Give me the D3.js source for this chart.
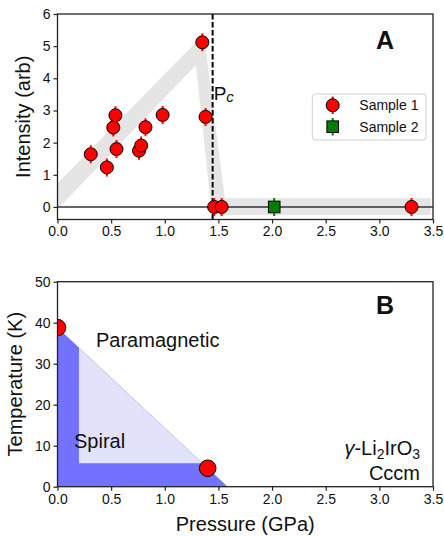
<!DOCTYPE html>
<html lang="en">
<head>
  <meta charset="UTF-8">
  <title>Pressure phase diagram</title>
  <script src="https://cdn.jsdelivr.net/npm/d3@7/dist/d3.min.js"></script>
  <style>
    body { margin: 0; background: #fff; }
    text { font-family: "Liberation Sans", Arial, sans-serif; fill: #111; }
  </style>
</head>
<body>
  <svg width="444" height="536"></svg>
  <script>
    // panel A: sample 1
    const p1 = [0.31, 0.46, 0.52, 0.54, 0.55, 0.76, 0.78, 0.82, 0.98, 1.35, 1.38, 1.46, 1.53, 3.30];
    const i1 = [1.64, 1.23, 2.47, 2.85, 1.80, 1.75, 1.91, 2.48, 2.86, 5.12, 2.80, 0, 0, 0];
    const e1 = [0.28, 0.28, 0.28, 0.28, 0.28, 0.28, 0.28, 0.28, 0.28, 0.28, 0.28, 0.28, 0.28, 0.28];
    // panel A: sample 2
    const p2 = [2.02];
    const i2 = [0];
    const e2 = [0.28];
    // grey guide band (pressure, intensity)
    const bandP = [0, 0, 1.33, 1.37, 1.56, 3.48, 3.48, 1.44, 1.29, 0.02];
    const bandI = [0, 0.74, 5.25, 5.2, 0.27, 0.27, -0.25, -0.25, 4.41, 0];
    const pc = 1.446;

    // panel B: phase diagram
    const outerP = [0, 1.586, 0];
    const outerT = [38.8, 0, 0];
    const innerP = [0.2, 0.2, 1.35];
    const innerT = [33.9, 5.7, 5.7];
    const ptP = [0, 1.4];
    const ptT = [38.8, 4.5];

    const xTicks = [0, 0.5, 1, 1.5, 2, 2.5, 3, 3.5];
    const yTicksA = [0, 1, 2, 3, 4, 5, 6];
    const yTicksB = [0, 10, 20, 30, 40, 50];

    const svg = d3.select('svg');
    const left = 57.5, right = 433;

    const x = d3.scaleLinear().domain([0, 3.5]).range([left, right]);
    const yA = d3.scaleLinear().domain([-0.39, 6]).range([219.5, 14]);
    const yB = d3.scaleLinear().domain([0, 50]).range([486.7, 281.7]);

    const fmt = d3.format('.1f');

    function frame(g, top, bottom) {
      g.append('rect')
        .attr('x', left).attr('y', top)
        .attr('width', right - left).attr('height', bottom - top)
        .attr('fill', 'none').attr('stroke', '#222').attr('stroke-width', 1.3);
    }

    function axes(g, y, yTicks, bottom) {
      const ax = g.append('g').attr('transform', `translate(0,${bottom})`)
        .call(d3.axisBottom(x).tickValues(xTicks).tickFormat(fmt).tickSize(4).tickPadding(3));
      const ay = g.append('g').attr('transform', `translate(${left},0)`)
        .call(d3.axisLeft(y).tickValues(yTicks).tickFormat(d3.format('d')).tickSize(4).tickPadding(3));
      [ax, ay].forEach(a => {
        a.select('.domain').remove();
        a.selectAll('line').attr('stroke', '#222').attr('stroke-width', 1.2);
        a.selectAll('text').style('font-size', '14px')
          .style('font-family', '"Liberation Sans", Arial, sans-serif').attr('fill', '#111');
      });
    }

    // ---------- panel A ----------
    const gA = svg.append('g');
    svg.append('clipPath').attr('id', 'clipA').append('rect')
      .attr('x', left).attr('y', 14).attr('width', right - left).attr('height', 219.5 - 14);
    const plotA = gA.append('g').attr('clip-path', 'url(#clipA)');

    plotA.append('path')
      .datum(d3.zip(bandP, bandI))
      .attr('d', d3.line().x(d => x(d[0])).y(d => yA(d[1])))
      .attr('fill', '#e5e5e5');

    plotA.append('line')
      .attr('x1', left).attr('x2', right).attr('y1', yA(0)).attr('y2', yA(0))
      .attr('stroke', '#333').attr('stroke-width', 1.5);

    plotA.append('line')
      .attr('x1', x(pc)).attr('x2', x(pc)).attr('y1', 14).attr('y2', 219.5)
      .attr('stroke', '#000').attr('stroke-width', 2).attr('stroke-dasharray', '5.5,2.5');

    const s1 = d3.zip(p1, i1, e1);
    plotA.selectAll('.err1').data(s1).enter().append('line')
      .attr('x1', d => x(d[0])).attr('x2', d => x(d[0]))
      .attr('y1', d => yA(d[1] - d[2])).attr('y2', d => yA(d[1] + d[2]))
      .attr('stroke', '#ff0000').attr('stroke-width', 2);
    plotA.selectAll('.dot1').data(s1).enter().append('circle')
      .attr('cx', d => x(d[0])).attr('cy', d => yA(d[1])).attr('r', 6.5)
      .attr('fill', '#ff0000').attr('stroke', '#000').attr('stroke-width', 1);

    const s2 = d3.zip(p2, i2, e2);
    plotA.selectAll('.err2').data(s2).enter().append('line')
      .attr('x1', d => x(d[0])).attr('x2', d => x(d[0]))
      .attr('y1', d => yA(d[1] - d[2])).attr('y2', d => yA(d[1] + d[2]))
      .attr('stroke', '#008000').attr('stroke-width', 2);
    plotA.selectAll('.sq2').data(s2).enter().append('rect')
      .attr('x', d => x(d[0]) - 5.8).attr('y', d => yA(d[1]) - 5.8)
      .attr('width', 11.6).attr('height', 11.6)
      .attr('fill', '#008000').attr('stroke', '#000').attr('stroke-width', 1);

    frame(gA, 14, 219.5);
    axes(gA, yA, yTicksA, 219.5);

    // P_c label
    const pcText = gA.append('text').attr('x', x(pc) + 1).attr('y', 100)
      .style('font-size', '19px');
    pcText.append('tspan').text('P');
    pcText.append('tspan').attr('dy', 1.5).style('font-style', 'italic').style('font-size', '15px').text('c');

    gA.append('text').attr('x', 385).attr('y', 48.5).attr('text-anchor', 'middle')
      .style('font-size', '25px').style('font-weight', 'bold').text('A');

    gA.append('text').attr('transform', `translate(29.5,${(14 + 219.5) / 2}) rotate(-90)`)
      .attr('text-anchor', 'middle').style('font-size', '20px').text('Intensity (arb)');

    // legend
    const leg = gA.append('g');
    leg.append('rect').attr('x', 312.3).attr('y', 94).attr('width', 113.7).attr('height', 46)
      .attr('rx', 3).attr('fill', '#fff').attr('fill-opacity', 0.8)
      .attr('stroke', '#d0d0d0').attr('stroke-width', 1);
    leg.append('line').attr('x1', 332.7).attr('x2', 332.7).attr('y1', 96.5).attr('y2', 114)
      .attr('stroke', '#ff0000').attr('stroke-width', 2);
    leg.append('circle').attr('cx', 332.7).attr('cy', 105.3).attr('r', 6.5)
      .attr('fill', '#ff0000').attr('stroke', '#000');
    leg.append('line').attr('x1', 332.7).attr('x2', 332.7).attr('y1', 118).attr('y2', 135.5)
      .attr('stroke', '#008000').attr('stroke-width', 2);
    leg.append('rect').attr('x', 332.7 - 5.8).attr('y', 126.7 - 5.8).attr('width', 11.6).attr('height', 11.6)
      .attr('fill', '#008000').attr('stroke', '#000');
    leg.append('text').attr('x', 359.3).attr('y', 110.3).style('font-size', '14px').text('Sample 1');
    leg.append('text').attr('x', 359.3).attr('y', 131.7).style('font-size', '14px').text('Sample 2');

    // ---------- panel B ----------
    const gB = svg.append('g');
    svg.append('clipPath').attr('id', 'clipB').append('rect')
      .attr('x', left).attr('y', 281.7).attr('width', right - left).attr('height', 486.7 - 281.7);
    const plotB = gB.append('g').attr('clip-path', 'url(#clipB)');
    const lineB = d3.line().x(d => x(d[0])).y(d => yB(d[1]));

    plotB.append('path').datum(d3.zip(outerP, outerT)).attr('d', lineB).attr('fill', '#7272ff');
    plotB.append('path').datum(d3.zip(innerP, innerT)).attr('d', lineB).attr('fill', '#e2e2fa');
    plotB.selectAll('.pt').data(d3.zip(ptP, ptT)).enter().append('circle')
      .attr('cx', d => x(d[0])).attr('cy', d => yB(d[1])).attr('r', 8.3)
      .attr('fill', '#ff0000').attr('stroke', '#000').attr('stroke-width', 1);

    frame(gB, 281.7, 486.7);
    axes(gB, yB, yTicksB, 486.7);

    gB.append('text').attr('x', 96).attr('y', 347.3).style('font-size', '20px').text('Paramagnetic');
    gB.append('text').attr('x', 74).attr('y', 448).style('font-size', '20px').text('Spiral');

    const chem = gB.append('text').attr('x', 420).attr('y', 455).attr('text-anchor', 'end')
      .style('font-size', '20px');
    chem.append('tspan').style('font-style', 'italic').text('γ');
    chem.append('tspan').text('-Li');
    chem.append('tspan').attr('dy', 4).style('font-size', '14px').text('2');
    chem.append('tspan').attr('dy', -4).text('IrO');
    chem.append('tspan').attr('dy', 4).style('font-size', '14px').text('3');
    gB.append('text').attr('x', 420).attr('y', 480).attr('text-anchor', 'end')
      .style('font-size', '20px').text('Cccm');

    gB.append('text').attr('x', 376).attr('y', 314.3)
      .style('font-size', '25px').style('font-weight', 'bold').text('B');

    gB.append('text').attr('transform', `translate(22,${(281.7 + 486.7) / 2}) rotate(-90)`)
      .attr('text-anchor', 'middle').style('font-size', '20px').text('Temperature (K)');
    gB.append('text').attr('x', (left + right) / 2).attr('y', 531).attr('text-anchor', 'middle')
      .style('font-size', '20px').text('Pressure (GPa)');
  </script>
</body>
</html>
